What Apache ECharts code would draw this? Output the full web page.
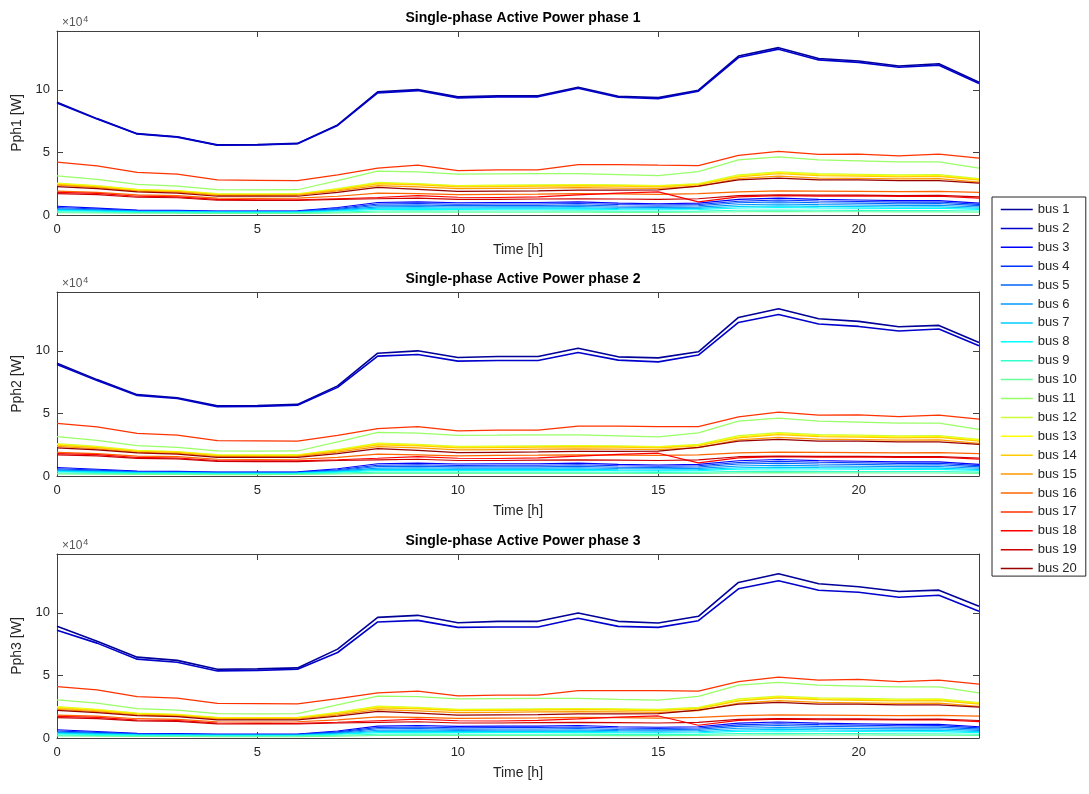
<!DOCTYPE html>
<html>
<head>
  <meta charset="utf-8">
  <title>Single-phase Active Power</title>
  <script src="https://cdn.jsdelivr.net/npm/echarts@6/dist/echarts.min.js"></script>
  <style type="text/css">
    html,
    body {
      margin: 0;
      background-color: #fff;
    }

    #main {
      width: 1089px;
      height: 794px;
    }
  </style>
</head>
<body>
  <div id="main"></div>
  <script type="text/javascript">
    // hours of the day
    var hours = [0, 1, 2, 3, 4, 5, 6, 7, 8, 9, 10, 11, 12, 13, 14, 15, 16, 17, 18, 19, 20, 21, 22, 23];

    var busNames = ['bus 1', 'bus 2', 'bus 3', 'bus 4', 'bus 5', 'bus 6', 'bus 7', 'bus 8', 'bus 9', 'bus 10',
      'bus 11', 'bus 12', 'bus 13', 'bus 14', 'bus 15', 'bus 16', 'bus 17', 'bus 18', 'bus 19', 'bus 20'];

    // jet(20)
    var busColors = ['#000099', '#0000cc', '#0000ff', '#0033ff', '#0066ff', '#0099ff', '#00ccff', '#00ffff', '#33ffcc', '#66ff99',
      '#99ff66', '#ccff33', '#ffff00', '#ffcc00', '#ff9900', '#ff6600', '#ff3300', '#ff0000', '#cc0000', '#990000'];

    var phaseTitles = ['Single-phase Active Power phase 1', 'Single-phase Active Power phase 2', 'Single-phase Active Power phase 3'];
    var yNames = ['Pph1 [W]', 'Pph2 [W]', 'Pph3 [W]'];

    // values in units of 10^4 W, one row per bus
    var phase1 = [
      [9.00, 7.70, 6.50, 6.25, 5.60, 5.62, 5.72, 7.20, 9.84, 10.02, 9.44, 9.52, 9.52, 10.21, 9.49, 9.38, 9.97, 12.70, 13.37, 12.50, 12.30, 11.90, 12.08, 10.60],
      [8.95, 7.66, 6.47, 6.22, 5.57, 5.59, 5.69, 7.15, 9.76, 9.94, 9.36, 9.44, 9.44, 10.12, 9.41, 9.30, 9.89, 12.58, 13.25, 12.39, 12.19, 11.80, 11.97, 10.51],
      [0.70, 0.55, 0.40, 0.38, 0.32, 0.32, 0.34, 0.60, 1.00, 1.05, 0.98, 1.00, 1.00, 1.05, 0.95, 0.90, 0.95, 1.25, 1.35, 1.25, 1.20, 1.15, 1.15, 0.95],
      [0.60, 0.48, 0.36, 0.34, 0.30, 0.30, 0.31, 0.52, 0.88, 0.92, 0.86, 0.88, 0.88, 0.92, 0.84, 0.80, 0.84, 1.10, 1.20, 1.12, 1.08, 1.03, 1.04, 0.85],
      [0.50, 0.42, 0.32, 0.30, 0.27, 0.27, 0.28, 0.45, 0.78, 0.80, 0.75, 0.76, 0.76, 0.80, 0.72, 0.70, 0.74, 0.98, 1.05, 0.98, 0.95, 0.90, 0.92, 0.75],
      [0.45, 0.38, 0.30, 0.28, 0.25, 0.25, 0.26, 0.40, 0.65, 0.68, 0.64, 0.65, 0.65, 0.68, 0.62, 0.60, 0.63, 0.82, 0.88, 0.83, 0.80, 0.77, 0.78, 0.64],
      [0.40, 0.34, 0.27, 0.26, 0.23, 0.23, 0.24, 0.36, 0.55, 0.57, 0.54, 0.55, 0.55, 0.57, 0.52, 0.50, 0.53, 0.68, 0.73, 0.69, 0.67, 0.64, 0.65, 0.54],
      [0.35, 0.30, 0.25, 0.24, 0.21, 0.21, 0.22, 0.32, 0.45, 0.47, 0.45, 0.46, 0.46, 0.47, 0.44, 0.42, 0.44, 0.56, 0.60, 0.57, 0.55, 0.53, 0.54, 0.45],
      [0.25, 0.22, 0.20, 0.19, 0.17, 0.17, 0.18, 0.24, 0.32, 0.33, 0.32, 0.32, 0.32, 0.33, 0.31, 0.30, 0.31, 0.38, 0.40, 0.38, 0.37, 0.36, 0.36, 0.32],
      [0.18, 0.16, 0.14, 0.14, 0.12, 0.12, 0.13, 0.17, 0.22, 0.23, 0.22, 0.22, 0.22, 0.23, 0.21, 0.21, 0.22, 0.26, 0.28, 0.26, 0.26, 0.25, 0.25, 0.22],
      [3.13, 2.85, 2.45, 2.30, 2.02, 2.00, 2.02, 2.75, 3.50, 3.45, 3.26, 3.28, 3.30, 3.30, 3.22, 3.15, 3.47, 4.40, 4.65, 4.40, 4.33, 4.25, 4.25, 3.75],
      [2.55, 2.35, 2.05, 1.95, 1.70, 1.68, 1.70, 2.10, 2.60, 2.50, 2.35, 2.38, 2.40, 2.42, 2.40, 2.35, 2.50, 3.20, 3.45, 3.30, 3.25, 3.20, 3.22, 2.90],
      [2.50, 2.30, 2.00, 1.92, 1.66, 1.65, 1.67, 2.05, 2.55, 2.45, 2.30, 2.32, 2.35, 2.38, 2.35, 2.30, 2.45, 3.12, 3.38, 3.22, 3.18, 3.12, 3.15, 2.85],
      [2.45, 2.25, 1.95, 1.88, 1.62, 1.61, 1.63, 2.00, 2.48, 2.40, 2.25, 2.27, 2.30, 2.33, 2.30, 2.25, 2.40, 3.05, 3.30, 3.15, 3.10, 3.05, 3.08, 2.78],
      [2.38, 2.18, 1.90, 1.82, 1.57, 1.56, 1.58, 1.92, 2.35, 2.25, 2.10, 2.12, 2.15, 2.18, 2.15, 2.12, 2.28, 2.90, 3.10, 2.95, 2.92, 2.88, 2.90, 2.62],
      [1.90, 1.80, 1.60, 1.55, 1.35, 1.33, 1.35, 1.50, 1.75, 1.70, 1.62, 1.65, 1.67, 1.70, 1.68, 1.65, 1.70, 1.85, 1.92, 1.90, 1.88, 1.86, 1.88, 1.80],
      [4.22, 3.93, 3.40, 3.26, 2.80, 2.77, 2.75, 3.20, 3.74, 3.98, 3.55, 3.60, 3.60, 4.03, 4.03, 3.98, 3.95, 4.76, 5.08, 4.84, 4.86, 4.73, 4.86, 4.54],
      [1.80, 1.72, 1.50, 1.45, 1.25, 1.22, 1.22, 1.30, 1.40, 1.55, 1.42, 1.40, 1.45, 1.60, 1.75, 1.85, 1.05, 1.45, 1.55, 1.50, 1.52, 1.48, 1.50, 1.35],
      [1.70, 1.62, 1.42, 1.38, 1.18, 1.16, 1.16, 1.25, 1.30, 1.35, 1.25, 1.25, 1.28, 1.30, 1.28, 1.25, 1.30, 1.55, 1.60, 1.58, 1.58, 1.55, 1.56, 1.45],
      [2.27, 2.10, 1.85, 1.75, 1.50, 1.50, 1.50, 1.80, 2.20, 2.05, 1.88, 1.90, 1.93, 1.98, 1.98, 2.00, 2.30, 2.80, 2.94, 2.80, 2.80, 2.75, 2.75, 2.55]
    ];

    var phase2 = [
      [9.00, 7.70, 6.50, 6.25, 5.60, 5.62, 5.72, 7.20, 9.81, 10.00, 9.47, 9.55, 9.55, 10.20, 9.52, 9.44, 9.92, 12.67, 13.36, 12.56, 12.35, 11.92, 12.03, 10.67],
      [8.90, 7.62, 6.44, 6.19, 5.54, 5.56, 5.65, 7.08, 9.58, 9.71, 9.18, 9.23, 9.23, 9.87, 9.26, 9.12, 9.66, 12.27, 12.90, 12.14, 11.95, 11.58, 11.74, 10.40],
      [0.68, 0.54, 0.40, 0.37, 0.32, 0.32, 0.33, 0.58, 0.98, 1.03, 0.96, 0.98, 0.98, 1.03, 0.93, 0.88, 0.93, 1.22, 1.32, 1.23, 1.18, 1.13, 1.13, 0.93],
      [0.58, 0.47, 0.35, 0.33, 0.29, 0.29, 0.30, 0.50, 0.86, 0.90, 0.84, 0.86, 0.86, 0.90, 0.82, 0.78, 0.82, 1.08, 1.17, 1.10, 1.06, 1.01, 1.02, 0.83],
      [0.49, 0.41, 0.31, 0.29, 0.26, 0.26, 0.27, 0.44, 0.76, 0.78, 0.73, 0.74, 0.74, 0.78, 0.70, 0.68, 0.72, 0.96, 1.02, 0.96, 0.93, 0.88, 0.90, 0.73],
      [0.44, 0.37, 0.29, 0.27, 0.24, 0.24, 0.25, 0.39, 0.63, 0.66, 0.62, 0.63, 0.63, 0.66, 0.60, 0.58, 0.61, 0.80, 0.86, 0.81, 0.78, 0.75, 0.76, 0.62],
      [0.39, 0.33, 0.26, 0.25, 0.22, 0.22, 0.23, 0.35, 0.53, 0.55, 0.52, 0.53, 0.53, 0.55, 0.50, 0.48, 0.51, 0.66, 0.71, 0.67, 0.65, 0.62, 0.63, 0.52],
      [0.34, 0.29, 0.24, 0.23, 0.20, 0.20, 0.21, 0.31, 0.44, 0.46, 0.44, 0.45, 0.45, 0.46, 0.43, 0.41, 0.43, 0.55, 0.58, 0.56, 0.54, 0.52, 0.53, 0.44],
      [0.24, 0.21, 0.19, 0.18, 0.16, 0.16, 0.17, 0.23, 0.31, 0.32, 0.31, 0.31, 0.31, 0.32, 0.30, 0.29, 0.30, 0.37, 0.39, 0.37, 0.36, 0.35, 0.35, 0.31],
      [0.17, 0.15, 0.13, 0.13, 0.11, 0.11, 0.12, 0.16, 0.21, 0.22, 0.21, 0.21, 0.21, 0.22, 0.20, 0.20, 0.21, 0.25, 0.27, 0.25, 0.25, 0.24, 0.24, 0.21],
      [3.15, 2.85, 2.42, 2.28, 2.00, 1.98, 2.00, 2.72, 3.48, 3.42, 3.25, 3.26, 3.28, 3.28, 3.20, 3.12, 3.45, 4.38, 4.62, 4.38, 4.30, 4.22, 4.22, 3.72],
      [2.58, 2.36, 2.05, 1.95, 1.70, 1.68, 1.70, 2.10, 2.62, 2.52, 2.36, 2.38, 2.40, 2.42, 2.40, 2.35, 2.52, 3.22, 3.46, 3.30, 3.26, 3.20, 3.22, 2.92],
      [2.52, 2.31, 2.01, 1.92, 1.66, 1.65, 1.67, 2.05, 2.56, 2.46, 2.31, 2.33, 2.35, 2.38, 2.35, 2.30, 2.46, 3.13, 3.38, 3.22, 3.18, 3.12, 3.15, 2.86],
      [2.46, 2.26, 1.96, 1.88, 1.62, 1.61, 1.63, 2.00, 2.49, 2.40, 2.25, 2.27, 2.30, 2.33, 2.30, 2.25, 2.40, 3.05, 3.30, 3.15, 3.10, 3.05, 3.08, 2.78],
      [2.36, 2.17, 1.89, 1.81, 1.56, 1.55, 1.57, 1.91, 2.34, 2.24, 2.09, 2.11, 2.14, 2.17, 2.14, 2.11, 2.26, 2.88, 3.08, 2.94, 2.90, 2.86, 2.88, 2.60],
      [1.88, 1.79, 1.59, 1.54, 1.34, 1.32, 1.34, 1.49, 1.74, 1.69, 1.61, 1.64, 1.66, 1.69, 1.67, 1.64, 1.69, 1.84, 1.91, 1.89, 1.87, 1.85, 1.87, 1.79],
      [4.20, 3.93, 3.40, 3.26, 2.83, 2.80, 2.78, 3.25, 3.79, 3.95, 3.60, 3.66, 3.66, 3.98, 3.98, 3.95, 3.94, 4.72, 5.10, 4.86, 4.88, 4.75, 4.86, 4.54],
      [1.78, 1.70, 1.48, 1.44, 1.24, 1.21, 1.21, 1.30, 1.42, 1.55, 1.42, 1.40, 1.45, 1.58, 1.72, 1.82, 1.05, 1.45, 1.55, 1.50, 1.52, 1.48, 1.50, 1.35],
      [1.68, 1.60, 1.41, 1.37, 1.17, 1.15, 1.15, 1.24, 1.29, 1.34, 1.24, 1.24, 1.27, 1.29, 1.27, 1.24, 1.29, 1.54, 1.59, 1.57, 1.57, 1.54, 1.55, 1.44],
      [2.25, 2.08, 1.84, 1.74, 1.49, 1.49, 1.49, 1.79, 2.18, 2.04, 1.87, 1.89, 1.92, 1.97, 1.97, 1.99, 2.28, 2.78, 2.92, 2.78, 2.78, 2.73, 2.73, 2.53]
    ];

    var phase3 = [
      [8.92, 7.72, 6.46, 6.20, 5.49, 5.52, 5.60, 7.10, 9.64, 9.80, 9.21, 9.32, 9.32, 9.99, 9.32, 9.19, 9.72, 12.43, 13.12, 12.32, 12.08, 11.70, 11.81, 10.52],
      [8.60, 7.58, 6.30, 6.05, 5.36, 5.40, 5.49, 6.83, 9.27, 9.40, 8.84, 8.87, 8.87, 9.56, 8.92, 8.84, 9.37, 11.92, 12.56, 11.81, 11.65, 11.25, 11.41, 10.12],
      [0.66, 0.52, 0.38, 0.36, 0.31, 0.31, 0.32, 0.56, 0.95, 1.00, 0.93, 0.95, 0.95, 1.00, 0.90, 0.86, 0.90, 1.19, 1.28, 1.19, 1.14, 1.09, 1.09, 0.90],
      [0.56, 0.45, 0.34, 0.32, 0.28, 0.28, 0.29, 0.49, 0.84, 0.88, 0.82, 0.84, 0.84, 0.88, 0.80, 0.76, 0.80, 1.05, 1.14, 1.07, 1.03, 0.98, 0.99, 0.81],
      [0.47, 0.40, 0.30, 0.28, 0.25, 0.25, 0.26, 0.43, 0.74, 0.76, 0.71, 0.72, 0.72, 0.76, 0.68, 0.66, 0.70, 0.93, 1.00, 0.93, 0.90, 0.86, 0.87, 0.71],
      [0.43, 0.36, 0.28, 0.26, 0.23, 0.23, 0.24, 0.38, 0.62, 0.64, 0.61, 0.62, 0.62, 0.64, 0.59, 0.57, 0.60, 0.78, 0.83, 0.79, 0.76, 0.73, 0.74, 0.61],
      [0.38, 0.32, 0.25, 0.24, 0.21, 0.21, 0.22, 0.34, 0.52, 0.54, 0.51, 0.52, 0.52, 0.54, 0.49, 0.47, 0.50, 0.64, 0.69, 0.65, 0.63, 0.61, 0.62, 0.51],
      [0.33, 0.28, 0.23, 0.22, 0.19, 0.19, 0.20, 0.30, 0.43, 0.45, 0.43, 0.44, 0.44, 0.45, 0.42, 0.40, 0.42, 0.53, 0.57, 0.54, 0.52, 0.50, 0.51, 0.43],
      [0.23, 0.20, 0.18, 0.17, 0.15, 0.15, 0.16, 0.22, 0.30, 0.31, 0.30, 0.30, 0.30, 0.31, 0.29, 0.28, 0.29, 0.36, 0.38, 0.36, 0.35, 0.34, 0.34, 0.30],
      [0.16, 0.14, 0.12, 0.12, 0.10, 0.10, 0.11, 0.15, 0.20, 0.21, 0.20, 0.20, 0.20, 0.21, 0.19, 0.19, 0.20, 0.24, 0.26, 0.24, 0.24, 0.23, 0.23, 0.20],
      [3.05, 2.78, 2.35, 2.22, 1.95, 1.93, 1.95, 2.65, 3.35, 3.30, 3.12, 3.14, 3.16, 3.16, 3.08, 3.02, 3.32, 4.22, 4.45, 4.22, 4.15, 4.08, 4.08, 3.60],
      [2.50, 2.29, 1.98, 1.89, 1.65, 1.63, 1.65, 2.04, 2.54, 2.44, 2.28, 2.30, 2.33, 2.35, 2.33, 2.28, 2.44, 3.12, 3.35, 3.20, 3.16, 3.10, 3.12, 2.83],
      [2.44, 2.24, 1.95, 1.86, 1.61, 1.60, 1.62, 1.99, 2.48, 2.38, 2.24, 2.26, 2.28, 2.31, 2.28, 2.23, 2.38, 3.03, 3.28, 3.12, 3.08, 3.03, 3.06, 2.77],
      [2.38, 2.19, 1.90, 1.82, 1.57, 1.56, 1.58, 1.94, 2.41, 2.33, 2.18, 2.20, 2.23, 2.26, 2.23, 2.18, 2.33, 2.96, 3.20, 3.06, 3.01, 2.96, 2.99, 2.70],
      [2.29, 2.10, 1.83, 1.76, 1.51, 1.50, 1.52, 1.85, 2.27, 2.17, 2.03, 2.05, 2.08, 2.10, 2.08, 2.05, 2.19, 2.79, 2.99, 2.85, 2.81, 2.77, 2.79, 2.52],
      [1.82, 1.74, 1.54, 1.49, 1.30, 1.28, 1.30, 1.45, 1.69, 1.64, 1.56, 1.59, 1.61, 1.64, 1.62, 1.59, 1.64, 1.78, 1.85, 1.83, 1.81, 1.79, 1.81, 1.74],
      [4.10, 3.85, 3.30, 3.18, 2.76, 2.74, 2.72, 3.15, 3.61, 3.75, 3.37, 3.43, 3.43, 3.78, 3.78, 3.78, 3.74, 4.50, 4.87, 4.63, 4.68, 4.50, 4.63, 4.31],
      [1.73, 1.65, 1.44, 1.40, 1.20, 1.17, 1.17, 1.26, 1.38, 1.50, 1.38, 1.36, 1.41, 1.53, 1.67, 1.76, 1.02, 1.41, 1.50, 1.46, 1.47, 1.44, 1.46, 1.31],
      [1.63, 1.55, 1.37, 1.33, 1.13, 1.12, 1.12, 1.20, 1.25, 1.30, 1.20, 1.20, 1.23, 1.25, 1.23, 1.20, 1.25, 1.49, 1.54, 1.52, 1.52, 1.49, 1.50, 1.40],
      [2.20, 2.03, 1.79, 1.70, 1.45, 1.45, 1.45, 1.74, 2.12, 1.98, 1.82, 1.84, 1.87, 1.92, 1.92, 1.94, 2.22, 2.70, 2.84, 2.70, 2.70, 2.65, 2.65, 2.46]
    ];

    var phases = [phase1, phase2, phase3];

    var myChart = echarts.init(document.getElementById('main'), null, { renderer: 'canvas' });

    var axisColor = '#404040';
    var gridTops = [31, 292, 554];
    var gridHeight = 184;

    var grids = [];
    var xAxes = [];
    var yAxes = [];
    var titles = [];
    var series = [];

    for (var g = 0; g < 3; g++) {
      grids.push({ left: 57, top: gridTops[g], width: 922, height: gridHeight, show: false });

      titles.push({
        text: phaseTitles[g],
        left: 518,
        textAlign: 'center',
        top: gridTops[g] - 25,
        textStyle: { fontSize: 14, fontWeight: 'bold', color: '#000', fontFamily: 'Liberation Sans, Arial, sans-serif' }
      });
      titles.push({
        text: '×10{sup|4}',
        left: 57,
        top: gridTops[g] - 21,
        textStyle: {
          fontSize: 12, fontWeight: 'normal', color: '#555', fontFamily: 'Liberation Sans, Arial, sans-serif',
          rich: { sup: { fontSize: 9, color: '#555', verticalAlign: 'top', padding: [0, 0, 6, 1] } }
        }
      });

      // bottom + mirrored top
      xAxes.push({
        gridIndex: g, type: 'value', min: 0, max: 23, interval: 5,
        name: 'Time [h]', nameLocation: 'middle', nameGap: 28,
        nameTextStyle: { fontSize: 14, color: '#262626' },
        axisLine: { show: true, onZero: false, lineStyle: { color: axisColor, width: 1 } },
        axisTick: { show: true, inside: true, length: 6, lineStyle: { color: axisColor } },
        axisLabel: { showMaxLabel: false, margin: 8, fontSize: 13, color: '#262626' },
        splitLine: { show: false }
      });
      xAxes.push({
        gridIndex: g, type: 'value', min: 0, max: 23, interval: 5, position: 'top',
        axisLine: { show: true, onZero: false, lineStyle: { color: axisColor, width: 1 } },
        axisTick: { show: true, inside: true, length: 6, lineStyle: { color: axisColor } },
        axisLabel: { show: false },
        splitLine: { show: false }
      });
      yAxes.push({
        gridIndex: g, type: 'value', min: 0, max: 14.7, interval: 5,
        name: yNames[g], nameLocation: 'middle', nameGap: 26,
        nameTextStyle: { fontSize: 14, color: '#262626' },
        axisLine: { show: true, onZero: false, lineStyle: { color: axisColor, width: 1 } },
        axisTick: { show: true, inside: true, length: 6, lineStyle: { color: axisColor } },
        axisLabel: { showMaxLabel: false, margin: 7, fontSize: 13, color: '#262626' },
        splitLine: { show: false }
      });
      yAxes.push({
        gridIndex: g, type: 'value', min: 0, max: 14.7, interval: 5, position: 'right',
        axisLine: { show: true, onZero: false, lineStyle: { color: axisColor, width: 1 } },
        axisTick: { show: true, inside: true, length: 6, lineStyle: { color: axisColor } },
        axisLabel: { show: false },
        splitLine: { show: false }
      });

      var rows = phases[g];
      for (var b = 0; b < busNames.length; b++) {
        var pts = [];
        for (var h = 0; h < hours.length; h++) {
          pts.push([hours[h], rows[b][h]]);
        }
        series.push({
          name: busNames[b],
          type: 'line',
          xAxisIndex: g * 2,
          yAxisIndex: g * 2,
          symbol: 'none',
          data: pts,
          lineStyle: { color: busColors[b], width: b < 2 ? 1.6 : 1.2 },
          itemStyle: { color: busColors[b] },
          z: 2
        });
      }
    }

    var option = {
      animation: false,
      backgroundColor: '#fff',
      textStyle: { fontFamily: 'Liberation Sans, Arial, sans-serif' },
      title: titles,
      grid: grids,
      xAxis: xAxes,
      yAxis: yAxes,
      legend: {
        orient: 'vertical',
        left: 992,
        top: 197,
        data: busNames,
        itemWidth: 32,
        itemHeight: 12,
        itemGap: 5.9,
        padding: [6, 9, 1, 8],
        borderColor: '#262626',
        borderWidth: 1,
        borderRadius: 0,
        backgroundColor: '#fff',
        itemStyle: { opacity: 0 },
        lineStyle: { width: 1.5 },
        textStyle: { fontSize: 13, color: '#262626', lineHeight: 12 }
      },
      series: series
    };

    myChart.setOption(option);
  </script>
</body>
</html>
